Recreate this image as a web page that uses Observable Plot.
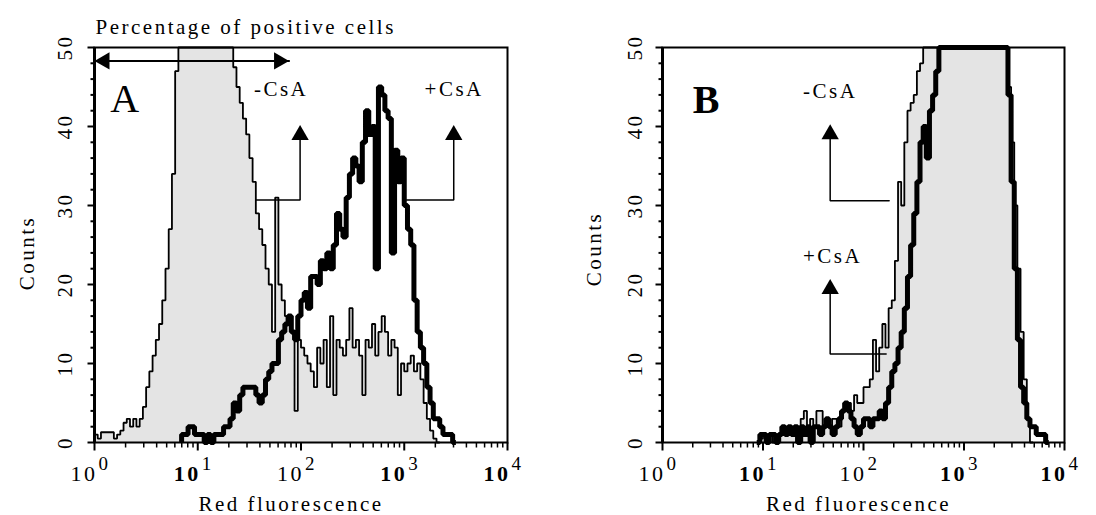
<!DOCTYPE html>
<html><head><meta charset="utf-8">
<script src="https://cdn.jsdelivr.net/npm/d3@7"></script>
<script src="https://cdn.jsdelivr.net/npm/@observablehq/plot@0.6"></script>
<style>
html,body{margin:0;padding:0;background:#fff;}
#chart{position:relative;width:1096px;height:515px;overflow:hidden;background:#fff;}
#chart svg{position:absolute;top:0;}
#chart text{letter-spacing:2.5px;}
#chart text.tl{letter-spacing:0px;}
</style></head><body><div id="chart"></div>
<script>
// Histogram channels: 32 channels per decade of red fluorescence
const channelsPerDecade = 32;

// Panel A, -CsA (grey filled), counts per channel starting at channel 0
const aMinusStart = 0;
const aMinus = [1,0.5,1.3,1.3,1.3,1.3,0.5,1,1.5,
  2.5,3,2,3,2,3,
  4.5,7,9,11,13,15,18,22,27,34,47,
  50,50,50,50,50,50,50,50,50,50,50,50,50,50,50,50,50,
  47.5,45,43,41,39,36,33,29,27,25,22,20,14,31,20,18,16,15,
  14,4,13,12,11,10,9,7,12,10,13,7,16,6,13,12,11,13,17,12,13,11,6,13,12,15,11,14,16,14,11,13,12,6,10,9,10,11,9,10,8,5,3,1.5,0.5,0];
// Panel A, +CsA (thick line), starting at channel 27
const aPlusStart = 27;
const aPlus = [1,1,2,2,1,1,1,0,1,0,1,1,1,2,2,3,5,4,6,7,7,7,7,6,5,6,8,9,10,10,13,14,15,16,
  14,13,16,18,19,17,21,21,20,23,22,24,22,25,29,27,26,31,34,36,35,33,38,42,39,40,22,45,44,42,41,24,37,33,36,30,27,25,18,14,12,10,7,5,3,3,2,1,1,1,0];
// Panel B, -CsA (grey filled), starting at channel 31
const bMinusStart = 31;
const bMinus = [0.5,1,0,1,0,1,1,2,2,1,2,1,2,3,4,2,3,2,4,4,2,3,2,3,3,2,4,5,5,4,6,5,5,7,7,8,13,9,12,15,12,17,18,23,33,30,38,42,43,44,47,48,
  50,50,50,50,50,50,50,50,50,50,50,50,50,50,50,50,50,50,50,50,50,50,50,50,50,50,50,
  45,38,30,22,14,8,3,0];
// Panel B, +CsA (thick line), starting at channel 30
const bPlusStart = 30;
const bPlus = [0,1,1,0,1,1,0,1,2,1,2,1,2,0,2,1,2,0,2,2,1,2,3,2,1,2,3,4,5,4,3,2,1,2,3,3,2,3,3,4,3,5,7,9,10,12,14,17,21,25,29,33,38,40,36,42,44,47,
  50,50,50,50,50,50,50,50,50,50,50,50,50,50,50,50,50,50,50,50,50,50,
  44,33,22,13,7,5,3,2,2,1,1,1,0];

// Axis ticks and labels
const yMajor = [0,10,20,30,40,50];
const yMinor = [2,4,6,8,12,14,16,18,22,24,26,28,32,34,36,38,42,44,46,48];
const xDecades = [1,10,100,1000,10000];
const xExponents = ["0","1","2","3","4"];
const xMinor = [2,3,4,5,6,7,8,9,20,30,40,50,60,70,80,90,200,300,400,500,600,700,800,900,2000,3000,4000,5000,6000,7000,8000,9000];

const xTitle = "Red fluorescence";
const yTitle = "Counts";
const topTitle = "Percentage of positive cells";

// Annotations (data coordinates)
const panelLetters = ["A","B"];
const aLabels = [{text:"-CsA", x:35, y:43.9},{text:"+CsA", x:1574, y:43.9}];
const bLabels = [{text:"-CsA", x:25, y:43.6},{text:"+CsA", x:25, y:22.7}];
const aArrows = [{tipX:98, tipY:40.2, stemTop:38.3, elbowY:30.7, endX:36.6},{tipX:3015, tipY:40.2, stemTop:38.3, elbowY:30.7, endX:1052}];
const bArrows = [{tipX:46.6, tipY:40.3, stemTop:38.4, elbowY:30.6, endX:180},{tipX:46.6, tipY:20.7, stemTop:18.8, elbowY:11.2, endX:168}];
const aRange = {x1:1, x2:76.6, y:48.3};

function toBins(start, vals) {
  const pts = [{x: 10 ** (start / channelsPerDecade), y: 0}];
  vals.forEach((v, k) => pts.push({x: 10 ** ((start + k) / channelsPerDecade), y: v}));
  pts.push({x: 10 ** ((start + vals.length) / channelsPerDecade), y: 0});
  return pts;
}

const font = "Liberation Serif";
const triR = 6.43;
// tick-shaped symbols (outward ticks)
const tickLeft = len => ({draw(ctx){ ctx.moveTo(0,0); ctx.lineTo(-len,0); }});
const tickDown = len => ({draw(ctx){ ctx.moveTo(0,0); ctx.lineTo(0,len); }});
const boldDecade = d => d === 10 || d === 1000 || d === 10000;

function panel(cfg) {
  const minus = toBins(cfg.minusStart, cfg.minus);
  const plus = toBins(cfg.plusStart, cfg.plus);
  const connectors = cfg.arrows.map(a => [{x:a.tipX, y:a.stemTop},{x:a.tipX, y:a.elbowY},{x:a.endX, y:a.elbowY}]);
  const marks = [
    Plot.areaY(minus, {x:"x", y:"y", curve:"step-after", fill:"#e4e4e4"}),
    Plot.lineY(minus, {x:"x", y:"y", curve:"step-after", stroke:"#000", strokeWidth:1.8, strokeLinejoin:"miter", strokeLinecap:"butt"}),
    Plot.lineY(plus, {x:"x", y:"y", curve:"step-after", stroke:"#000", strokeWidth:5, strokeLinejoin:"miter", strokeLinecap:"butt"}),
    Plot.frame({stroke:"#000", strokeWidth:2}),
    Plot.ruleX([1], {stroke:"#000", strokeWidth:3}),
    Plot.dot(yMajor, {y:d=>d, frameAnchor:"left", symbol:tickLeft(7), r:5, stroke:"#000", strokeWidth:2, fill:"none"}),
    Plot.dot(yMinor, {y:d=>d, frameAnchor:"left", symbol:tickLeft(4), r:5, stroke:"#000", strokeWidth:2, fill:"none"}),
    Plot.dot(xDecades, {x:d=>d, frameAnchor:"bottom", symbol:tickDown(8), r:5, stroke:"#000", strokeWidth:2, fill:"none"}),
    Plot.dot(xMinor, {x:d=>d, frameAnchor:"bottom", symbol:tickDown(5), r:5, stroke:"#000", strokeWidth:1.5, fill:"none"}),
    Plot.text(yMajor, {y:d=>d, text:d=>String(d), frameAnchor:"left", dx:cfg.yLabelDx, rotate:-90, textAnchor:"middle", lineAnchor:"middle", fontSize:21, fill:"#000", className:"yl"}),
    Plot.text(xDecades.filter(d=>!boldDecade(d)), {x:d=>d, text:()=>"10", frameAnchor:"bottom", dx:3, dy:38, textAnchor:"end", lineAnchor:"bottom", fontSize:22, fill:"#000", className:"tl"}),
    Plot.text(xDecades.filter(boldDecade), {x:d=>d, text:()=>"10", frameAnchor:"bottom", dx:3, dy:38, textAnchor:"end", lineAnchor:"bottom", fontSize:22, fontWeight:"bold", fill:"#000", className:"tl"}),
    Plot.text(xDecades, {x:d=>d, text:(d,i)=>xExponents[i], frameAnchor:"bottom", dx:4, dy:27, textAnchor:"start", lineAnchor:"bottom", fontSize:19, fill:"#000", className:"tl"}),
    Plot.text([xTitle], {text:d=>d, frameAnchor:"bottom", dx:cfg.xTitleDx, dy:68, textAnchor:"middle", lineAnchor:"bottom", fontSize:21, fill:"#000"}),
    Plot.text([yTitle], {text:d=>d, frameAnchor:"left", dx:cfg.yTitleDx, dy:cfg.yTitleDy, rotate:-90, textAnchor:"middle", lineAnchor:"bottom", fontSize:21, fill:"#000"}),
    Plot.text([cfg.letter], {x:()=>cfg.letterX, y:()=>cfg.letterY, text:d=>d, textAnchor:"start", lineAnchor:"bottom", fontSize:40, fontWeight:cfg.letterWeight, fill:"#000", className:"tl"}),
    Plot.text(cfg.labels, {x:"x", y:"y", text:"text", textAnchor:"start", lineAnchor:"bottom", fontSize:21, fill:"#000"}),
    ...connectors.map(c => Plot.line(c, {x:"x", y:"y", stroke:"#000", strokeWidth:1.5, strokeLinejoin:"miter"})),
    Plot.dot(cfg.arrows, {x:"tipX", y:"tipY", dy:10, symbol:"triangle", r:triR, fill:"#000", stroke:null})
  ];
  if (cfg.range) {
    const r = cfg.range;
    marks.push(
      Plot.line([{x:r.x1, y:r.y},{x:r.x2, y:r.y}], {x:"x", y:"y", stroke:"#000", strokeWidth:2}),
      Plot.dot([r], {x:"x1", y:"y", dx:10, rotate:-90, symbol:"triangle", r:triR, fill:"#000", stroke:null}),
      Plot.dot([r], {x:"x2", y:"y", dx:-10, rotate:90, symbol:"triangle", r:triR, fill:"#000", stroke:null}),
      Plot.text([topTitle], {text:d=>d, frameAnchor:"top-left", dx:1, dy:-14, textAnchor:"start", lineAnchor:"bottom", fontSize:21, fill:"#000"})
    );
  }
  const svg = Plot.plot({
    width: 548, height: 515,
    marginLeft: cfg.marginLeft, marginRight: cfg.marginRight, marginTop: 47, marginBottom: 73,
    style: {fontFamily: font, fontSize: "21px", background: "#fff", color:"#000", overflow:"visible"},
    x: {type:"log", domain:[1,10000], axis:null},
    y: {domain:[0,50], axis:null},
    marks
  });
  svg.style.left = cfg.left + "px";
  return svg;
}

const chart = document.getElementById("chart");
chart.appendChild(panel({
  left:0, marginLeft:94, marginRight:41,
  minusStart:aMinusStart, minus:aMinus, plusStart:aPlusStart, plus:aPlus,
  labels:aLabels, arrows:aArrows, range:aRange,
  letter:panelLetters[0], letterX:1.42, letterY:41.8, letterWeight:"normal",
  yLabelDx:-29, yTitleDx:-61, yTitleDy:8, xTitleDx:-10
}));
chart.appendChild(panel({
  left:548, marginLeft:114, marginRight:32,
  minusStart:bMinusStart, minus:bMinus, plusStart:bPlusStart, plus:bPlus,
  labels:bLabels, arrows:bArrows, range:null,
  letter:panelLetters[1], letterX:2.0, letterY:41.7, letterWeight:"bold",
  yLabelDx:-27, yTitleDx:-62, yTitleDy:4, xTitleDx:-5
}));
</script></body></html>
